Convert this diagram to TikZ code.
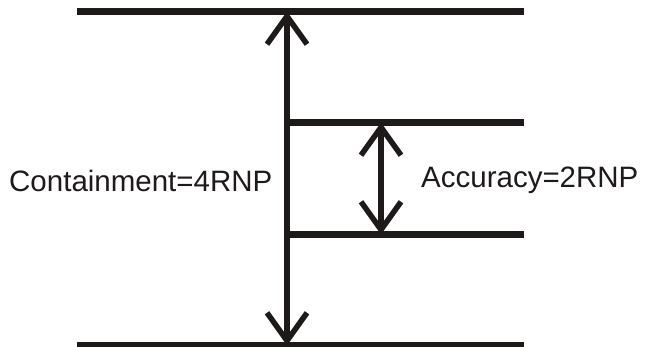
\documentclass[tikz,border=0pt]{standalone}
\usepackage{fontspec}
\setmainfont{Liberation Sans}
\usepackage{tikz}
\usetikzlibrary{arrows.meta}
\definecolor{inkdark}{HTML}{1E1A1A}
\tikzset{
    level/.style={draw=inkdark,line width=6.5pt},
    span/.style={draw=inkdark,line width=5.5pt,
        {Straight Barb[length=28pt,width=40pt,line width=5.5pt]}-{Straight Barb[length=28pt,width=40pt,line width=5.5pt]}},
    lbl/.style={font=\fontsize{29.5}{32}\selectfont,text=inkdark,inner sep=0pt}
}

\begin{document}
\begin{tikzpicture}[x=1pt,y=-1pt]
    \useasboundingbox (0,0) rectangle (654,347);
    % level lines
    \coordinate (topL) at (77,11.5);
    \coordinate (topR) at (524,11.5);
    \coordinate (botL) at (77,345.5);
    \coordinate (botR) at (524,345.5);
    \coordinate (upL) at (287,122.5);
    \coordinate (upR) at (524,122.5);
    \coordinate (lowL) at (287,234.5);
    \coordinate (lowR) at (524,234.5);
    \coordinate (bigT) at (287,11.5);
    \coordinate (bigB) at (287,345.5);
    \coordinate (smlT) at (381,122.5);
    \coordinate (smlB) at (381,234.5);
    \draw[level] (topL) -- (topR);
    \draw[level] (botL) -- (botR);
    \draw[level] (upL) -- (upR);
    \draw[level] (lowL) -- (lowR);
    % arrows
    \draw[span] (bigT) -- (bigB);
    \draw[span] (smlT) -- (smlB);
    % labels
    \node[lbl,anchor=base west] (contain) at (9,192) {Containment=4RNP};
    \node[lbl,anchor=base west] (accur) at (421,188) {Accuracy=2RNP};
\end{tikzpicture}
\end{document}
